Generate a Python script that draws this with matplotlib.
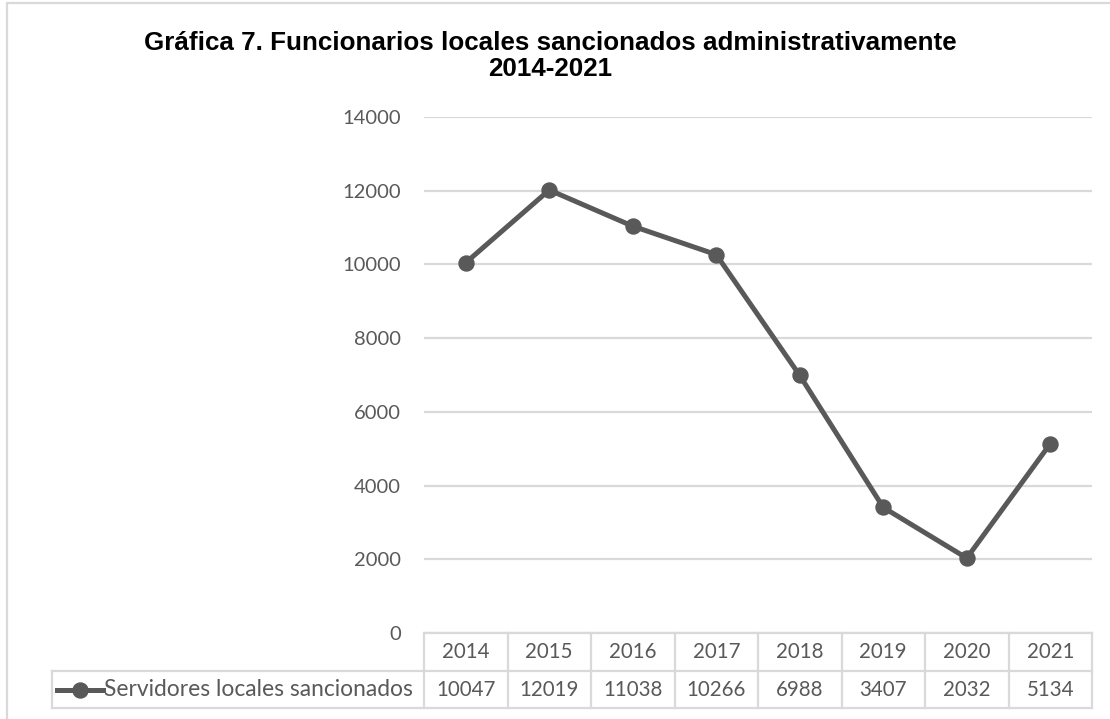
import matplotlib.pyplot as plt
import matplotlib.transforms as mtransforms
from matplotlib.patches import Rectangle

# Datos
years = ['2014', '2015', '2016', '2017', '2018', '2019', '2020', '2021']
sancionados = [10047, 12019, 11038, 10266, 6988, 3407, 2032, 5134]
serie = 'Servidores locales sancionados'
titulo = 'Gráfica 7. Funcionarios locales sancionados administrativamente\n2014-2021'
yticks = [0, 2000, 4000, 6000, 8000, 10000, 12000, 14000]

gris = '#595959'
borde = '#d9d9d9'
W, H = 1110, 719

fig = plt.figure(figsize=(W / 100, H / 100), dpi=100)
ax = fig.add_axes([424 / W, 1 - 633 / H, (1092 - 424) / W, (633 - 117) / H])

# Linea con marcadores
x = list(range(len(years)))
ax.plot(x, sancionados, color=gris, lw=3.6, marker='o', ms=10.8, zorder=3,
        solid_capstyle='round')

ax.set_xlim(-0.5, len(years) - 0.5)
ax.set_ylim(0, 14000)
ax.set_yticks(yticks)
ax.set_xticks([])
ax.grid(axis='y', color=borde, lw=1.6)
ax.set_axisbelow(True)
for s in ax.spines.values():
    s.set_visible(False)
ax.tick_params(axis='y', length=0, pad=16.5, labelsize=14.5, labelcolor=gris)
for lb in ax.get_yticklabels():
    lb.set_family('Lato')

# Tabla de datos bajo el eje
tr = mtransforms.blended_transform_factory(ax.transData, ax.transAxes)
colw_px = (1092 - 424) / len(years)
def px2x(px):
    return (px - 424) / colw_px - 0.5

y_top, y_mid, y_bot = 0.0, -(671 - 633) / 516, -(708 - 633) / 516
x_lab = px2x(52)
x_end = len(years) - 0.5
kw = dict(color=borde, lw=1.6, transform=tr, clip_on=False, zorder=1)
ax.plot([-0.5, x_end], [y_top, y_top], **kw)
ax.plot([x_lab, x_end], [y_mid, y_mid], **kw)
ax.plot([x_lab, x_end], [y_bot, y_bot], **kw)
for i in range(len(years) + 1):
    ax.plot([i - 0.5, i - 0.5], [y_top, y_bot], **kw)
ax.plot([x_lab, x_lab], [y_mid, y_bot], **kw)

txt = dict(transform=tr, ha='center', va='center', fontsize=14.8,
           color=gris, family='Lato', clip_on=False)
for i, (yr, v) in enumerate(zip(years, sancionados)):
    ax.text(i, (y_top + y_mid) / 2, yr, **txt)
    ax.text(i, (y_mid + y_bot) / 2, str(v), **txt)

# Clave de la serie dentro de la tabla
y_key = (y_mid + y_bot) / 2
ax.plot([px2x(57), px2x(103)], [y_key, y_key], color=gris, lw=3.6,
        transform=tr, clip_on=False)
ax.plot([px2x(80)], [y_key], color=gris, marker='o', ms=10.8,
        transform=tr, clip_on=False)
ax.text(px2x(104), y_key, serie, transform=tr, ha='left', va='center',
        fontsize=16.4, color=gris, family='Lato', clip_on=False)

# Titulo
fig.text(550 / W, 1 - 56 / H, titulo, ha='center', va='center',
         fontsize=18.7, fontweight='bold', family='Liberation Sans',
         color='black', linespacing=1.13)

# Borde del area del grafico
fig.patches.append(Rectangle((7 / W, -0.1), 1.2, 1.1 - 2.5 / H,
                             transform=fig.transFigure, fill=False,
                             edgecolor=borde, lw=1.6))

fig.savefig('out.png', dpi=100)
